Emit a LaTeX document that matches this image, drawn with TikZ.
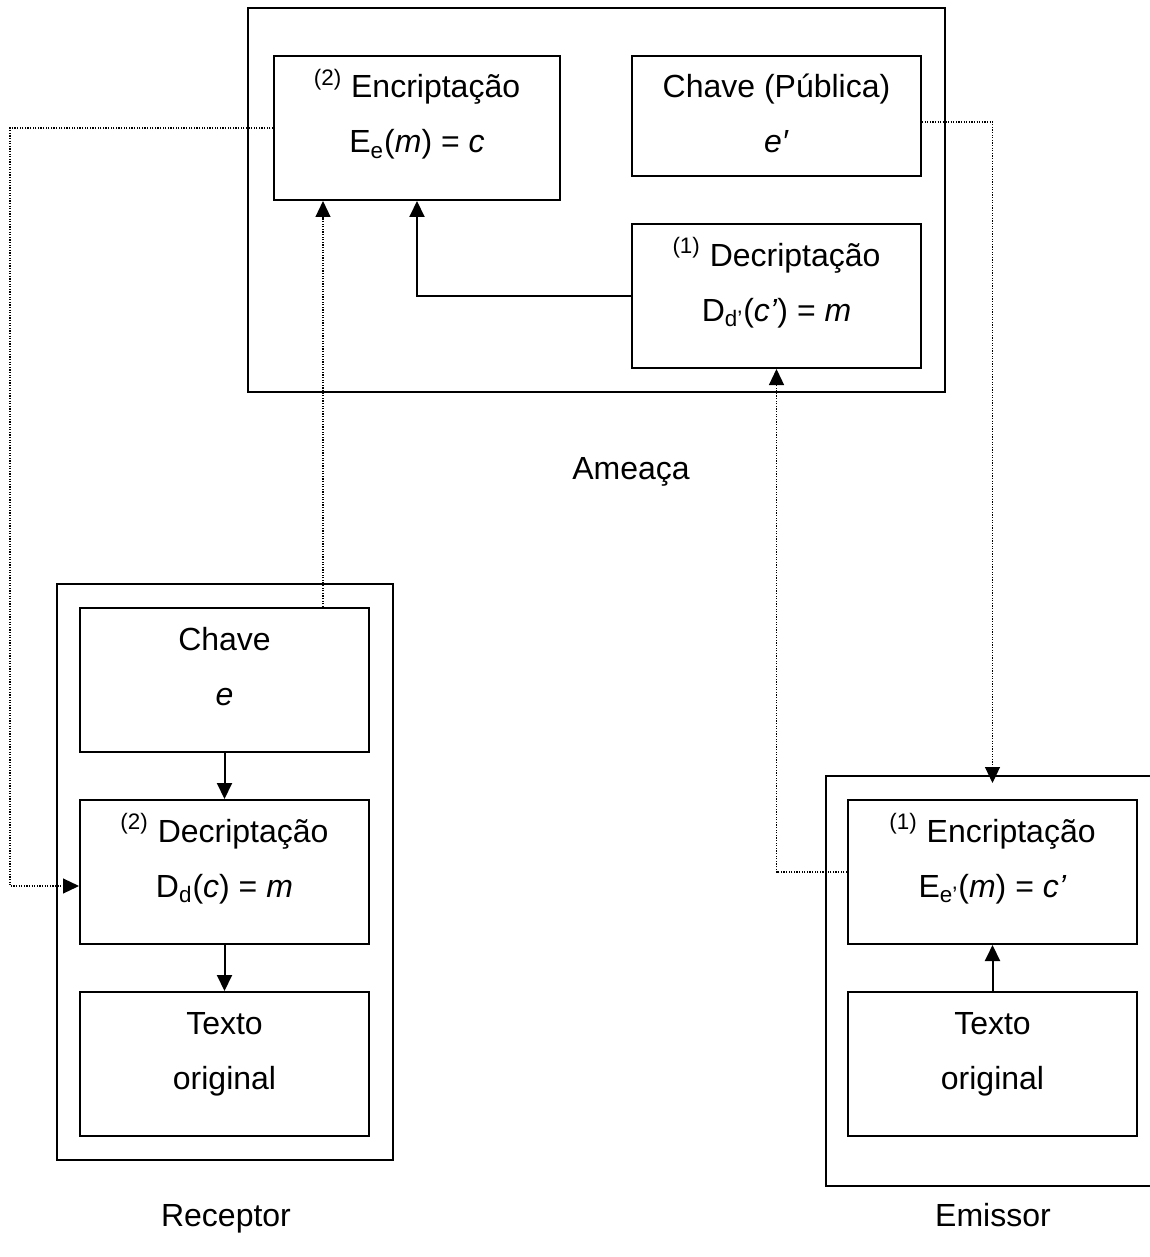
\documentclass[tikz,border=0pt]{standalone}
\usepackage{fontspec}
\setmainfont{Liberation Sans}
\usetikzlibrary{fit,arrows.meta}

\begin{document}
\begin{tikzpicture}[x=0.5pt,y=-0.5pt,
  frame/.style={draw,line width=1pt,inner sep=0pt,fit={#1}},
  blk/.style={draw,line width=1pt,inner sep=0pt,fit={#1}},
  txt/.style={anchor=base,inner sep=0pt,font=\fontsize{16}{19}\selectfont},
  flow/.style={line width=1pt,-{Triangle[length=8pt,width=7.5pt]}},
  dot/.style={line width=0.6pt,dash pattern=on 0.6pt off 0.7pt,-{Triangle[length=8pt,width=7.5pt]}}]

\useasboundingbox (0,0) rectangle (1150,1257);

% --- Ameaça ---
\node[frame={(248,8)(945,392)}] (amea) {};
\node[blk={(274,56)(560,200)}] (enc2) {};
\node[blk={(632,56)(921,176)}] (pub) {};
\node[blk={(632,224)(921,368)}] (dec1) {};
\node[txt] (enc2a) at (417,98) {\textsuperscript{(2)} Encriptação};
\node[txt] (enc2b) at (417,153) {E\textsubscript{e}(\textit{m}) = \textit{c}};
\node[txt] (puba) at (776.5,98) {Chave (Pública)};
\node[txt] (pubb) at (776.5,153) {\textit{e′}};
\node[txt] (dec1a) at (776.5,266) {\textsuperscript{(1)} Decriptação};
\node[txt] (dec1b) at (776.5,321) {D\textsubscript{d’}(\textit{c’}) = \textit{m}};
\node[txt] (lamea) at (631,479) {Ameaça};

% --- Receptor ---
\node[frame={(57,584)(393,1160)}] (rec) {};
\node[blk={(80,608)(369,752)}] (chave) {};
\node[blk={(80,800)(369,944)}] (dec2) {};
\node[blk={(80,992)(369,1136)}] (txtR) {};
\node[txt] (chavea) at (224.5,650) {Chave};
\node[txt] (chaveb) at (224.5,705) {\textit{e}};
\node[txt] (dec2a) at (224.5,842) {\textsuperscript{(2)} Decriptação};
\node[txt] (dec2b) at (224.5,897) {D\textsubscript{d}(\textit{c}) = \textit{m}};
\node[txt] (txtRa) at (224.5,1034) {Texto};
\node[txt] (txtRb) at (224.5,1089) {original};
\node[txt] (lrec) at (226,1226) {Receptor};

% --- Emissor ---
\node[frame={(826,776)(1170,1186)}] (emis) {};
\node[blk={(848,800)(1137,944)}] (enc1) {};
\node[blk={(848,992)(1137,1136)}] (txtE) {};
\node[txt] (enc1a) at (992.5,842) {\textsuperscript{(1)} Encriptação};
\node[txt] (enc1b) at (992.5,897) {E\textsubscript{e’}(\textit{m}) = \textit{c’}};
\node[txt] (txtEa) at (992.5,1034) {Texto};
\node[txt] (txtEb) at (992.5,1089) {original};
\node[txt] (lemis) at (993,1226) {Emissor};

% --- solid connectors ---
\draw[flow] (dec1.west) -| (enc2.south);
\draw[flow] (chave.south) -- (dec2.north);
\draw[flow] (dec2.south) -- (txtR.north);
\draw[flow] (txtE.north) -- (enc1.south);

% --- dotted connectors ---
\coordinate (lft) at (10,500);
\coordinate (ck) at ([xshift=-23.5pt]chave.north east);
\coordinate (dd) at ([yshift=-7pt]dec2.west);
\coordinate (pp) at ([yshift=-3pt]pub.east);
\draw[dot] (ck) -- (ck |- enc2.south);
\draw[dot] (enc2.west) -- (enc2.west -| lft) -- (dd -| lft) -- (dd);
\draw[dot] (pp) -| ([yshift=-4pt]emis.north -| enc1.north);
\draw[dot] (enc1.west) -| (dec1.south);
\end{tikzpicture}
\end{document}
